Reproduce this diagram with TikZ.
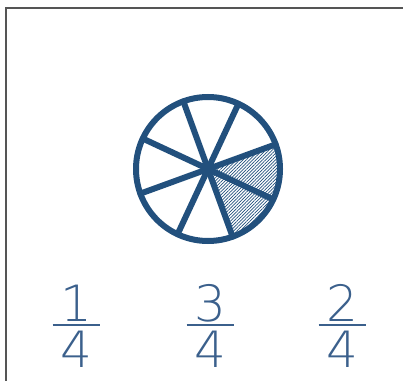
\documentclass[tikz,border=0pt]{standalone}
\usepackage{fontspec}
\newfontfamily\digitfont{DejaVu Sans ExtraLight}
\usetikzlibrary{patterns.meta}
\definecolor{wheelblue}{HTML}{22507D}
\definecolor{fracblue}{HTML}{3B608C}
\definecolor{framegray}{HTML}{555555}
\tikzset{
  spoke/.style={wheelblue, line width=6pt, line cap=round},
  hatch/.style={pattern={Lines[angle=45, distance=2.3pt, line width=0.7pt]}, pattern color=wheelblue},
  digit/.style={fracblue, font=\digitfont\fontsize{50}{50}\selectfont, inner sep=0pt},
  fracbar/.style={fracblue, line width=1.3pt}
}
\begin{document}
\begin{tikzpicture}[x=1pt, y=1pt]
  \useasboundingbox (0,0) rectangle (403,380);
  \draw[framegray, line width=1.5pt] (6,-5) -- (6,372) -- (410,372);
  \coordinate (c) at (208,211);
  % shaded parts
  \fill[hatch] (c) -- ++(-70:72) arc[start angle=-70, end angle=-25, radius=72] -- cycle;
  \fill[hatch] (c) -- ++(-25:72) arc[start angle=-25, end angle=20, radius=72] -- cycle;
  \foreach \a in {20,65,...,335}
    \draw[spoke] (c) -- ++(\a:72);
  \draw[spoke] (c) circle[radius=72];
  % fractions
  \foreach \x/\num/\nm in {76/1/a, 210/3/b, 342/2/c} {
    \node[digit] (num-\nm) at (\x,77) {\num};
    \node[digit] (den-\nm) at (\x,31) {4};
    \draw[fracbar] (\x-23.5,55) -- (\x+23.5,55);
  }
\end{tikzpicture}
\end{document}
